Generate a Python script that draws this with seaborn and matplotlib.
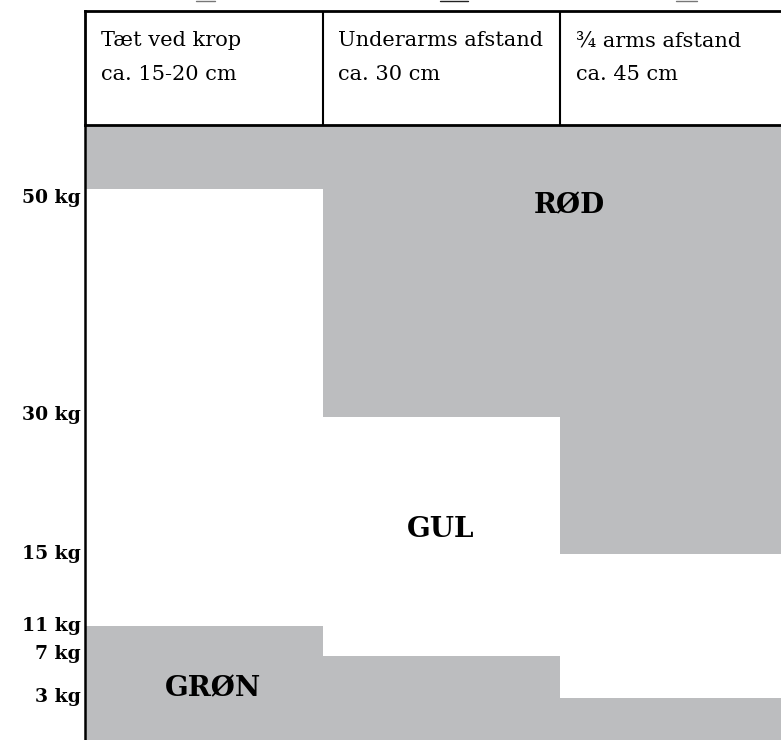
import numpy as np
import pandas as pd
import matplotlib
matplotlib.use("Agg")
import matplotlib.pyplot as plt
from matplotlib.lines import Line2D
from matplotlib.transforms import ScaledTranslation
import seaborn as sns

sns.set_theme(style="white")
plt.rcParams['font.family'] = ['DejaVu Serif']

# columns and where the zones start/stop, in kg
columns = ["Tæt ved krop", "Underarms afstand", "¾ arms afstand"]
distances = ["ca. 15-20 cm", "ca. 30 cm", "ca. 45 cm"]
green_up_to = [11, 7, 3]
red_from = [50, 30, 15]
top_kg = 60

tick_kg = [50, 30, 15, 11, 7, 3]
tick_labels = ["50 kg", "30 kg", "15 kg", "11 kg", "7 kg", "3 kg"]
label_nudge = [-7, 4, 2, 2, 4, 3]  # px, labels don't sit exactly on their level

zone_names = ["RØD", "GUL", "GRØN"]
zone_x = [1.54, 0.996, 0.04]
zone_kg = [48.45, 17.6, 3.9]

# the kg axis is not linear in the original, so map it by hand
scale_kg = [0, 3, 7, 11, 15, 30, 50, 60]
scale_pos = [0, 42, 83.5, 114, 186, 322.5, 550.5, 614]

grey = "#BCBDBF"
W, H = 781, 740
L, HEAD_TOP, HEAD_BOT = 85, 11, 125


def fwd(v):
    return np.interp(v, scale_kg, scale_pos)


def inv(v):
    return np.interp(v, scale_pos, scale_kg)


df = pd.DataFrame({"col": columns, "green": green_up_to, "red": red_from})
df["red_h"] = top_kg - df["red"]

fig = plt.figure(figsize=(W / 100, H / 100), dpi=100)
ax = fig.add_axes([L / W, 0, 1 - L / W, 1 - HEAD_BOT / H])
head = fig.add_axes([L / W, 1 - HEAD_BOT / H, 1 - L / W, (HEAD_BOT - HEAD_TOP) / H])

sns.barplot(data=df, x="col", y="green", color=grey, saturation=1, width=1, linewidth=0, ax=ax)
sns.barplot(data=df, x="col", y="red_h", bottom=df["red"], color=grey, saturation=1, width=1, linewidth=0, ax=ax)

ax.set_yscale("function", functions=(fwd, inv))
ax.set_ylim(0, top_kg)
ax.set_xlim(-0.5, 2.43)
ax.set_xlabel("")
ax.set_ylabel("")
ax.set_xticks([])
ax.set_yticks(tick_kg)
ax.set_yticklabels(tick_labels, fontsize=13.5, fontweight="bold", color="black")
ax.minorticks_off()
ax.tick_params(axis="y", length=0, pad=3, left=False)
for lab, dy in zip(ax.get_yticklabels(), label_nudge):
    lab.set_transform(lab.get_transform() + ScaledTranslation(0, dy / 100, fig.dpi_scale_trans))

for s in ["top", "right", "bottom"]:
    ax.spines[s].set_visible(False)
ax.spines["left"].set_color("black")
ax.spines["left"].set_linewidth(1.8)

for name, x, kg in zip(zone_names, zone_x, zone_kg):
    ax.text(x, kg, name, ha="center", va="center", fontsize=20, fontweight="bold", color="black")

# header row
head.set_xlim(-0.5, 2.43)
head.set_ylim(0, 1)
head.set_xticks([])
head.set_yticks([])
head.spines["right"].set_visible(False)
for s in ["top", "left", "bottom"]:
    head.spines[s].set_color("black")
    head.spines[s].set_linewidth(2)
head.vlines([0.5, 1.5], 0, 1, color="black", linewidth=1.5)
for i, (c, d) in enumerate(zip(columns, distances)):
    head.text(i - 0.433, 0.74, c, ha="left", va="center", fontsize=15, color="black")
    head.text(i - 0.433, 0.44, d, ha="left", va="center", fontsize=15, color="black")

# bits of cut off icons along the top edge
for x0, x1, col in [(196, 215, "#777777"), (440, 468, "#222222"), (676, 697, "#777777")]:
    fig.add_artist(Line2D([x0 / W, x1 / W], [1 - 0.7 / H] * 2, color=col, linewidth=1.0))

fig.savefig("out.png", dpi=100)
